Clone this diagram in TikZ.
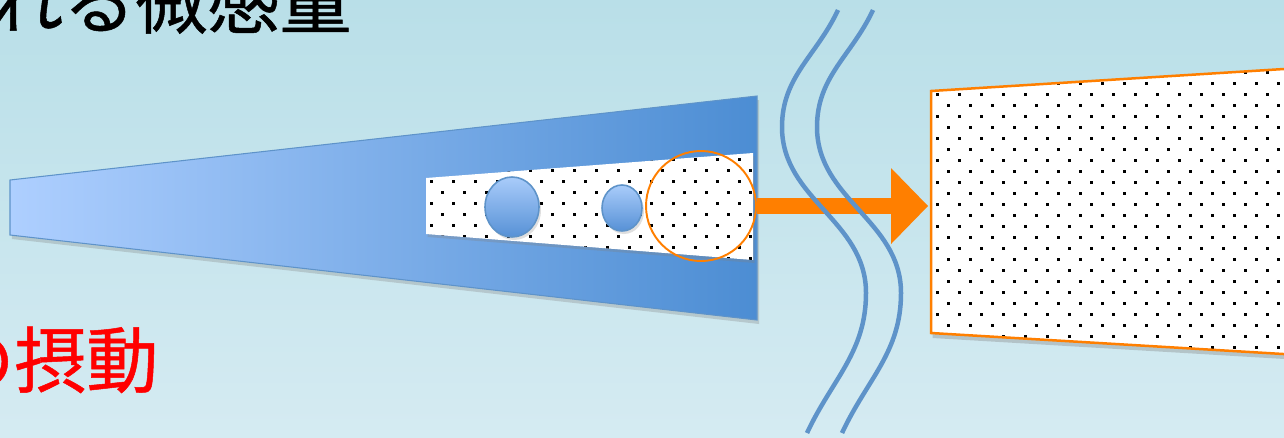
\documentclass[tikz,border=0pt]{standalone}
\usepackage{fontspec}
\usepackage{tikz}
\usetikzlibrary{arrows.meta,positioning,shadows}
\newfontfamily\jpfont[FakeBold=0.7]{Noto Sans CJK JP}
\definecolor{bgtop}{HTML}{B9DFE8}
\definecolor{bgbottom}{HTML}{D5EBF2}
\definecolor{beamlight}{HTML}{AECFFF}
\definecolor{beamdark}{HTML}{4C8DD3}
\definecolor{edgeblue}{HTML}{5E93C9}
\definecolor{ballhigh}{HTML}{A9CCFA}
\definecolor{balllow}{HTML}{5791D6}
\definecolor{focusorange}{HTML}{FF7F00}
\definecolor{textred}{HTML}{FF0000}

\begin{document}
\begin{tikzpicture}[x=.02cm,y=-.02cm]
\useasboundingbox (0,0) rectangle (1284,437);
\shade[top color=bgtop,bottom color=bgbottom] (0,0) rectangle (1284,437);
\clip (0,0) rectangle (1284,437);
% beam
\shadedraw[left color=beamlight,right color=beamdark,draw=edgeblue,line width=.6pt,
  drop shadow={opacity=.3,shadow xshift=.04cm,shadow yshift=-.08cm}]
  (10,180) -- (757,96) -- (757,320) -- (10,235) -- cycle;
% sample strip
\fill[white,drop shadow={opacity=.3,shadow xshift=.03cm,shadow yshift=-.06cm}]
  (426,178) -- (753,153) -- (753,260) -- (426,234) -- cycle;
\begin{scope}
\clip (426,178) -- (753,153) -- (753,260) -- (426,234) -- cycle;
\foreach \i in {0,...,15} \foreach \j in {0,...,6} {
  \fill (430+22*\i,136+22*\j) rectangle +(2.6,2.6);
  \fill (441+22*\i,147+22*\j) rectangle +(2.6,2.6);
}
\end{scope}
% grains
\shadedraw[top color=ballhigh,bottom color=balllow,draw=edgeblue,line width=.9pt,
  drop shadow={opacity=.25,shadow xshift=.04cm,shadow yshift=-.06cm}]
  (512,207) ellipse [x radius=27,y radius=30];
\shadedraw[top color=ballhigh,bottom color=balllow,draw=edgeblue,line width=.9pt,
  drop shadow={opacity=.25,shadow xshift=.04cm,shadow yshift=-.06cm}]
  (622,208) ellipse [x radius=20,y radius=23];
% focus and arrow
\node[circle,draw=focusorange,line width=1.1pt,minimum size=2.2cm,inner sep=0] (focus) at (701,206) {};
\coordinate (window) at (928,206);
\draw[focusorange,line width=.32cm,-{Triangle[length=.74cm,width=1.52cm,line width=0pt]}]
  (focus.east) -- (window);
% waves
\foreach \s in {0,35} {
  \draw[edgeblue,line width=.09cm] (838+\s,10) to[out=245,in=90] (782+\s,127)
    to[out=270,in=90] (866+\s,293) to[out=270,in=65] (807+\s,433);
}
% window
\fill[white,drop shadow={opacity=.35,shadow xshift=.03cm,shadow yshift=-.1cm}]
  (931,91) -- (1300,68) -- (1300,355) -- (931,333) -- cycle;
\begin{scope}
\clip (931,91) -- (1300,68) -- (1300,355) -- (931,333) -- cycle;
\foreach \i in {0,...,17} \foreach \j in {0,...,14} {
  \fill (936+22*\i,49+22*\j) rectangle +(2.6,2.6);
  \fill (947+22*\i,60+22*\j) rectangle +(2.6,2.6);
}
\end{scope}
\draw[focusorange,line width=.05cm] (931,91) -- (1300,68) -- (1300,355) -- (931,333) -- cycle;
% labels
\node[anchor=base west,inner sep=0,font=\jpfont\fontsize{41pt}{41pt}\selectfont] (title) at (-9,28) {れる微感量};
\node[anchor=base west,inner sep=0,text=textred,font=\jpfont\fontsize{41pt}{41pt}\selectfont] (perturb) at (-58,387) {の摂動};
\end{tikzpicture}
\end{document}
